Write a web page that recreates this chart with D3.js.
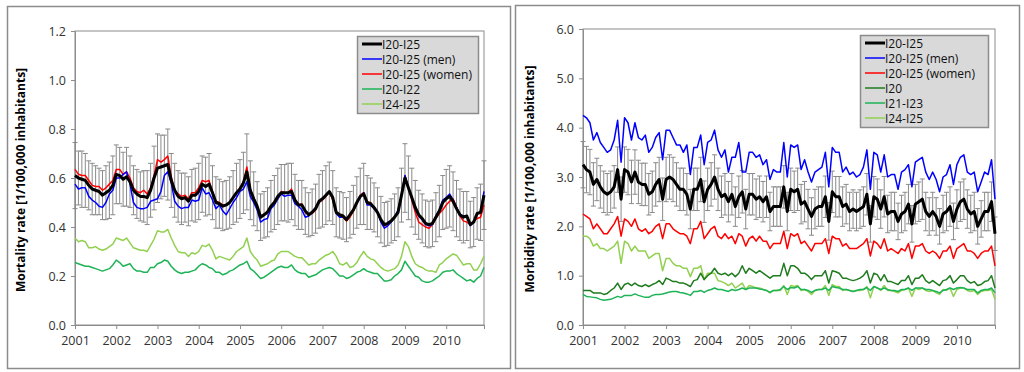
<!DOCTYPE html>
<html>
<head>
<meta charset="utf-8">
<script src="https://cdn.jsdelivr.net/npm/d3@7"></script>
<style>
  body { margin: 0; background: #fff; }
  svg { display: block; font-family: "Open Sans", "DejaVu Sans", sans-serif; }
</style>
</head>
<body>
<svg id="chart" width="1024" height="372"></svg>
<script>
/* global d3 */

//* categories
var yearLabels = ["2001", "2002", "2003", "2004", "2005", "2006", "2007", "2008", "2009", "2010"];

//* mortality (left panel), monthly 2001-2010
var mortTotal = [
  0.61, 0.60, 0.595, 0.59, 0.57, 0.555, 0.55, 0.545, 0.53, 0.54, 0.55, 0.57,
  0.615, 0.61, 0.595, 0.605, 0.585, 0.55, 0.535, 0.525, 0.525, 0.52, 0.55, 0.60,
  0.64, 0.645, 0.65, 0.655, 0.59, 0.55, 0.525, 0.515, 0.52, 0.505, 0.53, 0.53,
  0.545, 0.575, 0.565, 0.575, 0.54, 0.50, 0.495, 0.485, 0.49, 0.50, 0.52, 0.54,
  0.555, 0.58, 0.625, 0.55, 0.515, 0.485, 0.44, 0.45, 0.46, 0.485, 0.50, 0.525,
  0.54, 0.54, 0.54, 0.545, 0.51, 0.49, 0.49, 0.465, 0.45, 0.46, 0.475, 0.505,
  0.515, 0.53, 0.545, 0.52, 0.46, 0.45, 0.445, 0.43, 0.45, 0.47, 0.50, 0.525,
  0.535, 0.50, 0.495, 0.48, 0.46, 0.43, 0.41, 0.415, 0.425, 0.44, 0.46, 0.53,
  0.60, 0.56, 0.52, 0.48, 0.45, 0.435, 0.415, 0.41, 0.415, 0.44, 0.465, 0.50,
  0.515, 0.525, 0.505, 0.475, 0.45, 0.44, 0.445, 0.41, 0.42, 0.455, 0.46, 0.53
];
var mortErr = [
  0.135, 0.11, 0.115, 0.11, 0.10, 0.105, 0.10, 0.095, 0.10, 0.11, 0.115, 0.12,
  0.12, 0.115, 0.11, 0.12, 0.105, 0.10, 0.10, 0.10, 0.105, 0.11, 0.11, 0.13,
  0.14, 0.13, 0.125, 0.145, 0.11, 0.11, 0.105, 0.105, 0.10, 0.10, 0.105, 0.11,
  0.115, 0.115, 0.12, 0.125, 0.11, 0.105, 0.10, 0.10, 0.10, 0.105, 0.11, 0.12,
  0.12, 0.125, 0.155, 0.12, 0.11, 0.10, 0.095, 0.095, 0.10, 0.105, 0.11, 0.115,
  0.115, 0.115, 0.12, 0.115, 0.105, 0.10, 0.10, 0.095, 0.09, 0.095, 0.10, 0.11,
  0.115, 0.12, 0.12, 0.11, 0.10, 0.095, 0.095, 0.09, 0.095, 0.10, 0.105, 0.115,
  0.125, 0.11, 0.105, 0.10, 0.10, 0.095, 0.09, 0.09, 0.09, 0.095, 0.10, 0.11,
  0.14, 0.13, 0.12, 0.11, 0.10, 0.10, 0.095, 0.095, 0.095, 0.10, 0.105, 0.11,
  0.12, 0.125, 0.12, 0.115, 0.105, 0.105, 0.10, 0.095, 0.10, 0.105, 0.115, 0.14
];
var mortMen = [
  0.575, 0.555, 0.56, 0.56, 0.525, 0.51, 0.50, 0.485, 0.48, 0.50, 0.535, 0.55,
  0.60, 0.60, 0.615, 0.625, 0.575, 0.50, 0.48, 0.475, 0.475, 0.48, 0.505, 0.51,
  0.515, 0.545, 0.61, 0.625, 0.58, 0.505, 0.485, 0.475, 0.48, 0.48, 0.51, 0.505,
  0.51, 0.56, 0.535, 0.54, 0.51, 0.475, 0.49, 0.465, 0.45, 0.475, 0.50, 0.52,
  0.545, 0.555, 0.585, 0.525, 0.50, 0.47, 0.42, 0.43, 0.435, 0.475, 0.49, 0.515,
  0.535, 0.525, 0.53, 0.53, 0.495, 0.485, 0.47, 0.44, 0.445, 0.46, 0.48, 0.50,
  0.515, 0.53, 0.545, 0.52, 0.455, 0.44, 0.44, 0.43, 0.45, 0.47, 0.50, 0.52,
  0.54, 0.49, 0.49, 0.475, 0.46, 0.42, 0.395, 0.405, 0.42, 0.44, 0.47, 0.53,
  0.61, 0.56, 0.52, 0.475, 0.445, 0.43, 0.41, 0.405, 0.41, 0.445, 0.47, 0.51,
  0.52, 0.535, 0.51, 0.48, 0.45, 0.445, 0.445, 0.405, 0.42, 0.455, 0.46, 0.545
];
var mortWomen = [
  0.635, 0.615, 0.61, 0.61, 0.59, 0.57, 0.565, 0.565, 0.55, 0.56, 0.575, 0.59,
  0.635, 0.635, 0.615, 0.625, 0.60, 0.56, 0.545, 0.54, 0.55, 0.535, 0.56, 0.61,
  0.675, 0.665, 0.675, 0.69, 0.605, 0.55, 0.535, 0.525, 0.53, 0.515, 0.54, 0.54,
  0.56, 0.59, 0.585, 0.59, 0.545, 0.505, 0.50, 0.49, 0.49, 0.50, 0.52, 0.54,
  0.56, 0.585, 0.645, 0.555, 0.52, 0.48, 0.445, 0.45, 0.465, 0.485, 0.505, 0.515,
  0.545, 0.54, 0.54, 0.555, 0.51, 0.49, 0.495, 0.46, 0.45, 0.455, 0.47, 0.50,
  0.51, 0.525, 0.545, 0.51, 0.455, 0.445, 0.44, 0.425, 0.44, 0.465, 0.495, 0.53,
  0.54, 0.50, 0.50, 0.48, 0.46, 0.425, 0.405, 0.41, 0.425, 0.445, 0.46, 0.53,
  0.61, 0.56, 0.51, 0.46, 0.42, 0.41, 0.40, 0.395, 0.41, 0.435, 0.455, 0.47,
  0.49, 0.505, 0.515, 0.48, 0.445, 0.425, 0.42, 0.41, 0.425, 0.435, 0.44, 0.49
];
var mortI20I22 = [
  0.255, 0.25, 0.245, 0.24, 0.24, 0.235, 0.23, 0.225, 0.22, 0.225, 0.23, 0.245,
  0.265, 0.255, 0.24, 0.245, 0.25, 0.23, 0.22, 0.22, 0.215, 0.215, 0.235, 0.235,
  0.25, 0.255, 0.265, 0.26, 0.24, 0.225, 0.215, 0.21, 0.215, 0.215, 0.22, 0.225,
  0.24, 0.25, 0.245, 0.235, 0.23, 0.215, 0.215, 0.205, 0.21, 0.22, 0.225, 0.235,
  0.245, 0.25, 0.26, 0.23, 0.22, 0.205, 0.19, 0.195, 0.205, 0.215, 0.225, 0.235,
  0.24, 0.235, 0.235, 0.245, 0.225, 0.215, 0.21, 0.21, 0.195, 0.20, 0.205, 0.215,
  0.225, 0.23, 0.235, 0.23, 0.215, 0.20, 0.20, 0.19, 0.195, 0.205, 0.215, 0.22,
  0.23, 0.22, 0.215, 0.21, 0.21, 0.195, 0.18, 0.18, 0.185, 0.20, 0.21, 0.225,
  0.26, 0.24, 0.22, 0.20, 0.195, 0.18, 0.175, 0.175, 0.18, 0.19, 0.20, 0.215,
  0.22, 0.22, 0.225, 0.21, 0.20, 0.19, 0.18, 0.185, 0.175, 0.19, 0.20, 0.235
];
var mortI24I25 = [
  0.355, 0.34, 0.345, 0.34, 0.315, 0.315, 0.32, 0.31, 0.305, 0.31, 0.32, 0.33,
  0.355, 0.35, 0.345, 0.355, 0.335, 0.315, 0.31, 0.305, 0.305, 0.30, 0.325, 0.35,
  0.385, 0.38, 0.38, 0.39, 0.355, 0.325, 0.30, 0.295, 0.295, 0.28, 0.295, 0.29,
  0.30, 0.325, 0.32, 0.33, 0.305, 0.27, 0.28, 0.275, 0.27, 0.265, 0.28, 0.30,
  0.31, 0.32, 0.355, 0.30, 0.28, 0.265, 0.24, 0.245, 0.25, 0.26, 0.265, 0.29,
  0.30, 0.30, 0.30, 0.29, 0.28, 0.275, 0.275, 0.26, 0.245, 0.25, 0.25, 0.265,
  0.275, 0.285, 0.29, 0.30, 0.28, 0.25, 0.245, 0.255, 0.235, 0.24, 0.255, 0.28,
  0.30, 0.28, 0.27, 0.265, 0.25, 0.235, 0.225, 0.22, 0.225, 0.23, 0.245, 0.28,
  0.34, 0.32, 0.28, 0.25, 0.24, 0.235, 0.225, 0.22, 0.22, 0.215, 0.245, 0.255,
  0.27, 0.28, 0.29, 0.285, 0.265, 0.245, 0.25, 0.25, 0.225, 0.225, 0.25, 0.28
];

//* morbidity (right panel), monthly 2001-2010
var morbTotal = [
  3.25, 3.15, 3.10, 2.85, 2.95, 2.80, 2.70, 2.65, 2.70, 2.80, 3.15, 2.55,
  3.15, 3.10, 2.90, 3.10, 2.90, 2.85, 2.85, 2.65, 2.70, 2.85, 2.95, 2.55,
  2.95, 3.00, 2.95, 2.85, 2.75, 2.75, 2.65, 2.35, 2.75, 2.75, 2.95, 2.50,
  2.75, 2.85, 3.00, 2.75, 2.60, 2.65, 2.50, 2.65, 2.40, 2.60, 2.70, 2.35,
  2.65, 2.65, 2.55, 2.60, 2.50, 2.60, 2.30, 2.40, 2.40, 2.40, 2.80, 2.30,
  2.75, 2.70, 2.75, 2.45, 2.50, 2.35, 2.20, 2.35, 2.40, 2.40, 2.60, 2.10,
  2.70, 2.60, 2.60, 2.40, 2.45, 2.30, 2.35, 2.30, 2.35, 2.40, 2.65, 2.05,
  2.60, 2.55, 2.35, 2.60, 2.25, 2.30, 2.30, 2.10, 2.25, 2.30, 2.45, 2.05,
  2.45, 2.50, 2.55, 2.30, 2.20, 2.30, 2.20, 2.00, 2.25, 2.30, 2.40, 2.10,
  2.35, 2.50, 2.55, 2.35, 2.25, 2.30, 2.00, 2.15, 2.30, 2.30, 2.50, 1.85
];
var morbErr = [
  0.47, 0.47, 0.46, 0.44, 0.43, 0.43, 0.42, 0.42, 0.42, 0.43, 0.46, 0.45,
  0.46, 0.46, 0.44, 0.45, 0.44, 0.43, 0.43, 0.42, 0.42, 0.44, 0.45, 0.43,
  0.45, 0.45, 0.45, 0.44, 0.43, 0.43, 0.42, 0.40, 0.43, 0.43, 0.45, 0.42,
  0.43, 0.44, 0.45, 0.43, 0.42, 0.42, 0.41, 0.42, 0.40, 0.42, 0.43, 0.40,
  0.42, 0.42, 0.41, 0.42, 0.41, 0.42, 0.39, 0.40, 0.40, 0.40, 0.43, 0.39,
  0.43, 0.42, 0.43, 0.40, 0.41, 0.40, 0.38, 0.40, 0.40, 0.40, 0.42, 0.38,
  0.42, 0.41, 0.41, 0.40, 0.40, 0.39, 0.39, 0.39, 0.39, 0.40, 0.42, 0.37,
  0.41, 0.41, 0.39, 0.41, 0.38, 0.39, 0.39, 0.37, 0.38, 0.39, 0.40, 0.37,
  0.40, 0.40, 0.41, 0.39, 0.38, 0.39, 0.38, 0.36, 0.38, 0.39, 0.40, 0.37,
  0.39, 0.40, 0.41, 0.39, 0.38, 0.39, 0.36, 0.37, 0.39, 0.39, 0.40, 0.34
];
var morbMen = [
  4.25, 4.20, 4.10, 3.75, 3.90, 3.70, 3.60, 3.50, 3.55, 3.75, 4.15, 3.30,
  4.20, 4.10, 3.75, 4.10, 3.80, 3.75, 3.85, 3.50, 3.60, 3.80, 3.90, 3.35,
  3.95, 3.95, 3.80, 3.65, 3.65, 3.50, 3.65, 3.05, 3.60, 3.60, 3.85, 3.25,
  3.70, 3.75, 3.95, 3.55, 3.40, 3.55, 3.10, 3.40, 3.40, 3.70, 3.10, 3.10,
  3.50, 3.50, 3.40, 3.45, 3.25, 3.35, 2.95, 3.15, 3.10, 3.10, 3.70, 3.00,
  3.65, 3.60, 3.65, 3.15, 3.35, 3.10, 2.90, 3.10, 3.15, 3.20, 3.50, 2.80,
  3.60, 3.50, 3.50, 3.10, 3.20, 3.05, 3.10, 3.00, 3.05, 3.20, 3.55, 2.75,
  3.50, 3.45, 3.10, 3.45, 3.00, 3.05, 3.05, 2.75, 3.10, 3.15, 3.25, 2.80,
  3.30, 3.35, 3.40, 3.10, 2.95, 3.10, 2.95, 2.70, 3.00, 3.05, 3.25, 2.85,
  3.25, 3.40, 3.45, 3.10, 3.05, 3.10, 2.70, 2.90, 3.10, 3.05, 3.35, 2.55
];
var morbWomen = [
  2.25, 2.20, 2.15, 1.95, 2.05, 1.95, 1.85, 1.85, 1.95, 2.05, 2.20, 1.80,
  2.15, 2.10, 2.00, 2.15, 1.95, 1.90, 1.95, 1.85, 1.90, 2.00, 2.05, 1.75,
  2.05, 2.05, 1.95, 1.90, 1.85, 1.85, 1.80, 1.65, 1.95, 1.95, 2.10, 1.75,
  1.85, 1.95, 2.00, 1.80, 1.75, 1.85, 1.75, 1.80, 1.65, 1.85, 1.80, 1.60,
  1.75, 1.80, 1.70, 1.80, 1.70, 1.70, 1.55, 1.65, 1.65, 1.65, 1.90, 1.55,
  1.85, 1.80, 1.85, 1.65, 1.70, 1.60, 1.50, 1.65, 1.65, 1.65, 1.75, 1.45,
  1.80, 1.75, 1.75, 1.60, 1.65, 1.55, 1.55, 1.55, 1.60, 1.65, 1.75, 1.40,
  1.70, 1.65, 1.55, 1.75, 1.50, 1.55, 1.50, 1.45, 1.55, 1.50, 1.65, 1.35,
  1.60, 1.60, 1.65, 1.50, 1.45, 1.50, 1.45, 1.35, 1.50, 1.50, 1.60, 1.35,
  1.55, 1.60, 1.65, 1.50, 1.50, 1.45, 1.35, 1.45, 1.50, 1.50, 1.60, 1.20
];
var morbI20 = [
  0.70, 0.70, 0.70, 0.65, 0.65, 0.65, 0.62, 0.64, 0.70, 0.75, 0.85, 0.72,
  0.82, 0.85, 0.80, 0.85, 0.80, 0.78, 0.82, 0.78, 0.82, 0.85, 0.90, 0.82,
  0.95, 0.92, 0.88, 0.88, 0.85, 0.85, 0.82, 0.78, 0.90, 0.92, 1.05, 0.92,
  1.00, 1.05, 1.15, 1.05, 1.02, 1.05, 1.00, 1.05, 0.98, 1.05, 1.20, 1.05,
  1.15, 1.10, 1.05, 1.10, 1.05, 1.00, 0.95, 1.00, 1.00, 1.00, 1.25, 1.00,
  1.20, 1.20, 1.15, 1.05, 1.05, 1.00, 0.92, 1.00, 1.00, 1.00, 1.10, 0.85,
  1.10, 1.08, 1.05, 0.95, 0.95, 0.92, 0.90, 0.92, 0.95, 1.00, 1.10, 0.85,
  1.05, 1.02, 0.90, 1.02, 0.88, 0.88, 0.85, 0.82, 0.90, 0.90, 1.00, 0.82,
  0.95, 0.95, 1.02, 0.90, 0.85, 0.90, 0.85, 0.80, 0.90, 0.92, 1.00, 0.85,
  0.92, 1.00, 1.00, 0.90, 0.85, 0.88, 0.80, 0.82, 0.88, 0.90, 1.00, 0.75
];
var morbI21I23 = [
  0.62, 0.58, 0.57, 0.56, 0.55, 0.52, 0.50, 0.51, 0.52, 0.55, 0.58, 0.56,
  0.60, 0.60, 0.60, 0.63, 0.60, 0.58, 0.56, 0.56, 0.60, 0.62, 0.62, 0.63,
  0.65, 0.67, 0.68, 0.68, 0.66, 0.65, 0.63, 0.60, 0.68, 0.68, 0.70, 0.66,
  0.70, 0.72, 0.75, 0.72, 0.72, 0.70, 0.68, 0.72, 0.70, 0.72, 0.75, 0.72,
  0.75, 0.75, 0.75, 0.73, 0.72, 0.70, 0.66, 0.70, 0.70, 0.72, 0.78, 0.72,
  0.76, 0.75, 0.78, 0.72, 0.72, 0.70, 0.66, 0.70, 0.72, 0.72, 0.75, 0.70,
  0.78, 0.76, 0.75, 0.72, 0.72, 0.70, 0.68, 0.70, 0.72, 0.72, 0.76, 0.70,
  0.78, 0.75, 0.72, 0.75, 0.72, 0.70, 0.70, 0.68, 0.72, 0.72, 0.75, 0.70,
  0.75, 0.75, 0.75, 0.72, 0.72, 0.70, 0.68, 0.65, 0.70, 0.72, 0.75, 0.72,
  0.75, 0.76, 0.75, 0.72, 0.72, 0.72, 0.65, 0.70, 0.72, 0.72, 0.75, 0.65
];
var morbI24I25 = [
  1.80, 1.80, 1.75, 1.60, 1.65, 1.55, 1.55, 1.50, 1.55, 1.60, 1.70, 1.25,
  1.70, 1.65, 1.50, 1.60, 1.50, 1.50, 1.50, 1.35, 1.40, 1.45, 1.45, 1.10,
  1.35, 1.35, 1.25, 1.20, 1.20, 1.15, 1.15, 0.98, 1.15, 1.15, 1.20, 0.92,
  1.05, 1.05, 1.05, 0.90, 0.88, 0.85, 0.80, 0.85, 0.75, 0.80, 0.85, 0.72,
  0.80, 0.78, 0.75, 0.75, 0.72, 0.70, 0.65, 0.70, 0.70, 0.70, 0.80, 0.62,
  0.80, 0.78, 0.80, 0.70, 0.72, 0.68, 0.62, 0.70, 0.72, 0.72, 0.80, 0.60,
  0.82, 0.78, 0.78, 0.70, 0.72, 0.70, 0.68, 0.70, 0.70, 0.72, 0.78, 0.55,
  0.78, 0.75, 0.70, 0.80, 0.70, 0.70, 0.68, 0.65, 0.70, 0.72, 0.75, 0.58,
  0.75, 0.72, 0.75, 0.70, 0.68, 0.70, 0.65, 0.62, 0.72, 0.70, 0.75, 0.58,
  0.72, 0.75, 0.75, 0.70, 0.68, 0.70, 0.62, 0.68, 0.70, 0.70, 0.72, 0.52
];

var mortTicks = [0, 0.2, 0.4, 0.6, 0.8, 1.0, 1.2];
var morbTicks = [0, 1, 2, 3, 4, 5, 6];

var svg = d3.select('#chart');

function drawPanel( p ) {

	//* outer frame
	svg.append('rect')
		.attr('x', p.frame[0] + 0.5).attr('y', p.frame[1] + 0.5)
		.attr('width', p.frame[2]).attr('height', p.frame[3])
		.attr('fill', '#fff').attr('stroke', '#8c8c8c').attr('stroke-width', 1.5);

	var x = d3.scaleLinear().domain([0, 119]).range([p.left, p.right]);
	var y = d3.scaleLinear().domain([0, p.yMax]).range([p.bottom, p.top]);

	var g = svg.append('g');

	//* plot area border
	g.append('rect')
		.attr('x', p.left).attr('y', p.top)
		.attr('width', p.right - p.left).attr('height', p.bottom - p.top)
		.attr('fill', 'none').attr('stroke', '#8c8c8c').attr('stroke-width', 1);

	//* y axis
	var ya = g.append('g')
		.attr('transform', 'translate(' + p.left + ',0)')
		.call(d3.axisLeft(y).tickValues(p.ticks).tickFormat(d3.format('.1f')).tickSize(4).tickSizeOuter(0));
	ya.selectAll('text').attr('font-size', 12.5).attr('fill', '#333').attr('font-family', '"Open Sans"').attr('dx', -2);

	//* x axis
	var xa = g.append('g')
		.attr('transform', 'translate(0,' + p.bottom + ')')
		.call(d3.axisBottom(x)
			.tickValues([0, 12, 24, 36, 48, 60, 72, 84, 96, 108, 119])
			.tickFormat(function(d){ return d % 12 === 0 ? yearLabels[d / 12] : ''; })
			.tickSize(4).tickSizeOuter(0));
	xa.selectAll('text').attr('font-size', 12.5).attr('fill', '#333').attr('font-family', '"Open Sans"').attr('dy', '1.05em');

	svg.selectAll('.domain, .tick line').attr('stroke', '#8c8c8c');

	//* y title
	g.append('text')
		.attr('transform', 'translate(' + p.titleX + ',' + ((p.top + p.bottom) / 2 + 2) + ') rotate(-90)')
		.attr('text-anchor', 'middle')
		.attr('font-size', 12)
		.attr('font-weight', 'bold')
		.attr('fill', '#000')
		.text(p.title);

	//* error bars
	var eb = g.append('g').attr('stroke', '#8a8a8a').attr('stroke-width', 1);
	p.total.forEach(function(v, i){
		var cx = x(i), y1 = y(v + p.err[i]), y0 = y(v - p.err[i]);
		eb.append('line').attr('x1', cx).attr('x2', cx).attr('y1', y1).attr('y2', y0);
		eb.append('line').attr('x1', cx - 2.5).attr('x2', cx + 2.5).attr('y1', y1).attr('y2', y1);
		eb.append('line').attr('x1', cx - 2.5).attr('x2', cx + 2.5).attr('y1', y0).attr('y2', y0);
	});

	var line = d3.line()
		.x(function(d, i){ return x(i); })
		.y(function(d){ return y(d); });

	//* series, bottom of legend first so the total sits on top
	p.series.slice().reverse().forEach(function(s){
		g.append('path')
			.datum(s.values)
			.attr('d', line)
			.attr('fill', 'none')
			.attr('stroke', s.color)
			.attr('stroke-width', s.width)
			.attr('stroke-linejoin', 'round');
	});

	//* legend
	var lg = g.append('g').attr('transform', 'translate(' + p.legend[0] + ',' + p.legend[1] + ')');
	lg.append('rect')
		.attr('x', 0.5).attr('y', 0.5)
		.attr('width', p.legend[2]).attr('height', p.series.length * 15 + 2)
		.attr('fill', '#d9d9d9').attr('stroke', '#8c8c8c').attr('stroke-width', 1.5);
	p.series.forEach(function(s, i){
		var ly = 8 + i * 15;
		lg.append('line')
			.attr('x1', 5).attr('x2', 25).attr('y1', ly).attr('y2', ly)
			.attr('stroke', s.color).attr('stroke-width', s.width);
		lg.append('text')
			.attr('x', 25).attr('y', ly + 4.5)
			.attr('font-size', 12)
			.attr('fill', '#111')
			.text(s.name);
	});
}

drawPanel({
	frame: [7, 6, 503, 362],
	left: 75, right: 484, top: 31, bottom: 325,
	yMax: 1.2, ticks: mortTicks,
	titleX: 25, title: 'Mortality rate [1/100,000 inhabitants]',
	total: mortTotal, err: mortErr,
	legend: [357, 36, 121],
	series: [
		{ name: 'I20-I25', values: mortTotal, color: '#000', width: 3 },
		{ name: 'I20-I25 (men)', values: mortMen, color: '#0000ff', width: 1.5 },
		{ name: 'I20-I25 (women)', values: mortWomen, color: '#ff0000', width: 1.5 },
		{ name: 'I20-I22', values: mortI20I22, color: '#1db356', width: 1.5 },
		{ name: 'I24-I25', values: mortI24I25, color: '#92d050', width: 1.5 }
	]
});

drawPanel({
	frame: [515, 5, 504, 363],
	left: 583, right: 995, top: 29, bottom: 325,
	yMax: 6, ticks: morbTicks,
	titleX: 534, title: 'Morbidity rate [1/100,000 inhabitants]',
	total: morbTotal, err: morbErr,
	legend: [860, 35, 128],
	series: [
		{ name: 'I20-I25', values: morbTotal, color: '#000', width: 3 },
		{ name: 'I20-I25 (men)', values: morbMen, color: '#0000ff', width: 1.5 },
		{ name: 'I20-I25 (women)', values: morbWomen, color: '#ff0000', width: 1.5 },
		{ name: 'I20', values: morbI20, color: '#1e7b1e', width: 1.5 },
		{ name: 'I21-I23', values: morbI21I23, color: '#1db356', width: 1.5 },
		{ name: 'I24-I25', values: morbI24I25, color: '#92d050', width: 1.5 }
	]
});
</script>
</body>
</html>
